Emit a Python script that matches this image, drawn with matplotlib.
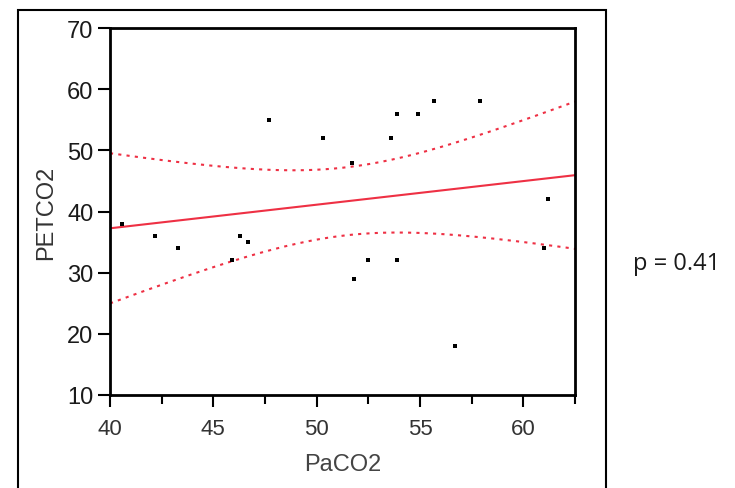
import numpy as np
import matplotlib
matplotlib.use("Agg")
import matplotlib.pyplot as plt
from matplotlib.patches import Rectangle
from matplotlib.ticker import MultipleLocator

# PaCO2 vs PETCO2 readings
paco2 = [40.6, 42.2, 43.3, 45.9, 46.3, 46.7, 47.7, 50.3, 51.7, 51.8,
         52.5, 53.6, 53.9, 53.9, 54.9, 55.7, 56.7, 57.9, 61.0, 61.2]
petco2 = [38, 36, 34, 32, 36, 35, 55, 52, 48, 29,
          32, 52, 56, 32, 56, 58, 18, 58, 34, 42]
p_text = "p = 0.41"

x = np.array(paco2)
y = np.array(petco2)
n = len(x)

# linear fit and 95% confidence band of the mean
slope, icpt = np.polyfit(x, y, 1)
xs = np.linspace(40, 62.5, 200)
fit = icpt + slope * xs
resid = y - (icpt + slope * x)
s = np.sqrt(np.sum(resid ** 2) / (n - 2))
sxx = np.sum((x - x.mean()) ** 2)
tval = 2.101  # t(0.975, 18)
half = tval * s * np.sqrt(1.0 / n + (xs - x.mean()) ** 2 / sxx)

plt.rcParams['font.family'] = ['Liberation Sans', 'DejaVu Sans']
narrow = ['Liberation Sans Narrow', 'Liberation Sans']

fig = plt.figure(figsize=(7.35, 4.89), dpi=100)
fig.patches.append(Rectangle((18 / 735, -0.1), 588 / 735, 1.1 - 11 / 489,
                             transform=fig.transFigure, fill=False,
                             edgecolor='black', linewidth=1.5))

ax = fig.add_axes([110 / 735, 93 / 489, 465 / 735, 367 / 489])
red = '#ee3044'
ax.plot(xs, fit, color=red, linewidth=1.5)
ax.plot(xs, fit + half, color=red, linewidth=1.5, linestyle=(0, (1.5, 2.5)))
ax.plot(xs, fit - half, color=red, linewidth=1.5, linestyle=(0, (1.5, 2.5)))
ax.scatter(x, y, marker='s', s=10, color='black', zorder=3, linewidths=0)

ax.set_xlim(40, 62.5)
ax.set_ylim(10, 70)
ax.xaxis.set_major_locator(MultipleLocator(5))
ax.xaxis.set_minor_locator(MultipleLocator(2.5))
ax.yaxis.set_major_locator(MultipleLocator(10))
for sp in ax.spines.values():
    sp.set_linewidth(2)
ax.tick_params(axis='y', which='major', direction='out', length=8.5,
               width=1.5, pad=3.5, labelcolor='#1a1a1a')
ax.tick_params(axis='x', which='major', direction='out', length=8.5,
               width=1.5, pad=8, labelcolor='#333333')
ax.tick_params(axis='x', which='minor', direction='out', length=6.5, width=1.5)
for lab in ax.get_yticklabels():
    lab.set_family(narrow)
    lab.set_fontsize(17)
for lab in ax.get_xticklabels():
    lab.set_family(narrow)
    lab.set_fontsize(16)
ax.set_xlabel("PaCO2", fontsize=17, color='#444444', labelpad=10)
ax.set_ylabel("PETCO2", fontsize=17, color='#333333', labelpad=7)

fig.text(677 / 735, 1 - 264 / 489, p_text, fontsize=17, ha='center',
         va='center', color='#1a1a1a', family=['Open Sans', 'DejaVu Sans'])

fig.savefig("out.png", dpi=100)
